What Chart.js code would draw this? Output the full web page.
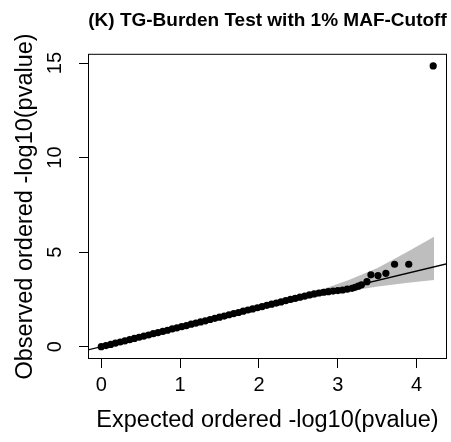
<!DOCTYPE html>
<html>
<head>
<meta charset="utf-8">
<title>TG-Burden Test QQ plot</title>
<script src="https://cdn.jsdelivr.net/npm/chart.js@4.4.1/dist/chart.umd.min.js"></script>
<style>
  html, body { margin: 0; padding: 0; background: #fff; }
  canvas { display: block; }
</style>
</head>
<body>
<canvas id="qq" width="451" height="442"></canvas>
<script>
const FONT = '"Liberation Sans", Arial, Helvetica, sans-serif';

// expected vs observed -log10(p)
const expected = [
  0.00, 0.06, 0.12, 0.18, 0.24, 0.30, 0.36, 0.42, 0.48, 0.54,
  0.60, 0.66, 0.72, 0.78, 0.84, 0.90, 0.96, 1.02, 1.08, 1.14,
  1.20, 1.26, 1.32, 1.38, 1.44, 1.50, 1.56, 1.62, 1.68, 1.74,
  1.80, 1.86, 1.92, 1.98, 2.04, 2.10, 2.16, 2.22, 2.28, 2.34,
  2.40, 2.46, 2.52, 2.58, 2.64, 2.70, 2.76, 2.82, 2.88, 2.94,
  3.00, 3.06, 3.12, 3.18, 3.22, 3.26, 3.30,
  3.37, 3.42, 3.51, 3.61, 3.72, 3.90, 4.21,
];
const observed = [
  0.00, 0.06, 0.12, 0.19, 0.25, 0.31, 0.37, 0.44, 0.50, 0.56,
  0.62, 0.69, 0.75, 0.81, 0.87, 0.94, 1.00, 1.06, 1.12, 1.19,
  1.25, 1.31, 1.37, 1.44, 1.50, 1.56, 1.62, 1.69, 1.75, 1.81,
  1.88, 1.94, 2.00, 2.06, 2.12, 2.19, 2.25, 2.31, 2.37, 2.44,
  2.50, 2.56, 2.62, 2.68, 2.74, 2.79, 2.84, 2.88, 2.91, 2.94,
  2.97, 3.00, 3.04, 3.09, 3.14, 3.20, 3.27,
  3.44, 3.80, 3.76, 3.88, 4.36, 4.36, 14.85,
];

// grey confidence band
const bandX = [0.00, 1.00, 2.00, 2.50, 2.88, 3.14, 3.51, 3.89, 4.22];
const bandUpper = [0.00, 1.05, 2.10, 2.70, 3.15, 3.53, 4.18, 5.03, 5.82];
const bandLower = [0.00, 0.98, 1.95, 2.45, 2.78, 2.95, 3.18, 3.38, 3.53];

// y = x reference line
const ablineX = [-1, 5];
const ablineY = [-1, 5];

const xTickValues = [0, 1, 2, 3, 4];
const yTickValues = [0, 5, 10, 15];

const title = '(K) TG-Burden Test with 1% MAF-Cutoff';
const xTitle = 'Expected ordered -log10(pvalue)';
const yTitle = 'Observed ordered -log10(pvalue)';

const toPoints = (xs, ys) => xs.map((x, i) => ({ x, y: ys[i] }));

// R-like box and rotated y tick labels
const rAxesPlugin = {
  id: 'rAxes',
  afterDraw(chart) {
    const { ctx, chartArea: a, scales } = chart;
    ctx.save();
    ctx.strokeStyle = '#000';
    ctx.lineWidth = 1;
    ctx.strokeRect(a.left + 0.5, a.top + 0.5, a.right - a.left - 1, a.bottom - a.top - 1);
    ctx.fillStyle = '#000';
    ctx.font = '20px ' + FONT;
    ctx.textAlign = 'center';
    ctx.textBaseline = 'middle';
    scales.y.ticks.forEach((t) => {
      ctx.save();
      ctx.translate(55, scales.y.getPixelForValue(t.value));
      ctx.rotate(-Math.PI / 2);
      ctx.fillText(t.label, 0, 0);
      ctx.restore();
    });
    ctx.restore();
  },
};

new Chart(document.getElementById('qq'), {
  type: 'scatter',
  data: {
    datasets: [
      {
        label: 'observed',
        data: toPoints(expected, observed),
        pointRadius: 3.6,
        pointBackgroundColor: '#000',
        pointBorderWidth: 0,
      },
      {
        label: 'abline',
        data: toPoints(ablineX, ablineY),
        showLine: true,
        pointRadius: 0,
        borderColor: '#000',
        borderWidth: 1.3,
      },
      {
        label: 'upper',
        data: toPoints(bandX, bandUpper),
        showLine: true,
        pointRadius: 0,
        borderWidth: 0,
        borderColor: 'rgba(0,0,0,0)',
        backgroundColor: '#bebebe',
        fill: '+1',
      },
      {
        label: 'lower',
        data: toPoints(bandX, bandLower),
        showLine: true,
        pointRadius: 0,
        borderWidth: 0,
        borderColor: 'rgba(0,0,0,0)',
      },
    ],
  },
  options: {
    responsive: false,
    animation: false,
    events: [],
    layout: { padding: { top: 0, right: 2, bottom: 0, left: 0 } },
    plugins: {
      legend: { display: false },
      tooltip: { enabled: false },
      title: {
        display: true,
        text: title,
        fullSize: false,
        color: '#000',
        font: { family: FONT, size: 19, weight: 'bold' },
        padding: { top: 9, bottom: 22 },
      },
    },
    scales: {
      x: {
        type: 'linear',
        min: -0.168,
        max: 4.385,
        bounds: 'data',
        border: { display: false },
        grid: { drawOnChartArea: false, drawTicks: true, tickLength: 9, color: '#000' },
        afterBuildTicks(scale) { scale.ticks = xTickValues.map((value) => ({ value })); },
        ticks: {
          color: '#000',
          padding: 5,
          font: { family: FONT, size: 20 },
        },
        title: {
          display: true,
          text: xTitle,
          color: '#000',
          font: { family: FONT, size: 23.5 },
          padding: { top: 0, bottom: 7 },
        },
        afterFit(scale) { scale.height = 83; },
      },
      y: {
        type: 'linear',
        min: -0.65,
        max: 15.49,
        bounds: 'data',
        border: { display: false },
        grid: { drawOnChartArea: false, drawTicks: true, tickLength: 9, color: '#000' },
        afterBuildTicks(scale) { scale.ticks = yTickValues.map((value) => ({ value })); },
        ticks: {
          display: false,
          font: { family: FONT, size: 20 },
        },
        title: {
          display: true,
          text: yTitle,
          color: '#000',
          font: { family: FONT, size: 23.5 },
          padding: { top: 11, bottom: 0 },
        },
        afterFit(scale) { scale.width = 88; },
      },
    },
  },
  plugins: [rAxesPlugin],
});
</script>
</body>
</html>
